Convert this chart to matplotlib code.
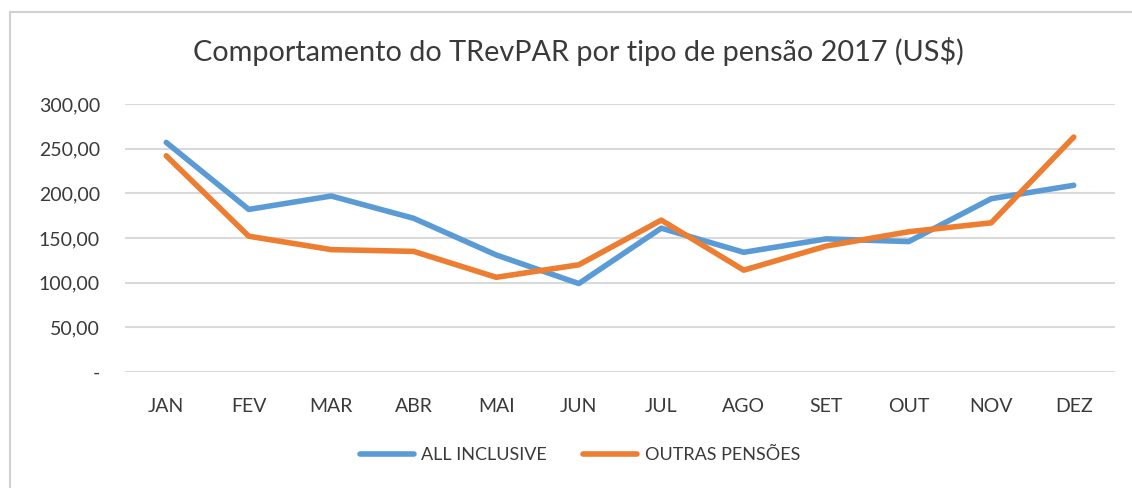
import matplotlib.pyplot as plt
from matplotlib.patches import Rectangle

plt.rcParams['font.family'] = ['Lato', 'DejaVu Sans']

months = ['JAN', 'FEV', 'MAR', 'ABR', 'MAI', 'JUN', 'JUL', 'AGO', 'SET', 'OUT', 'NOV', 'DEZ']
all_inclusive = [257, 182, 197, 172, 131, 99, 161, 134, 149, 146, 194, 209]
outras_pensoes = [242, 152, 137, 135, 106, 120, 170, 114, 141, 157, 167, 263]
yticks = [0, 50, 100, 150, 200, 250, 300]

fig = plt.figure(figsize=(11.32, 4.88), dpi=100)
fig.patch.set_facecolor('white')

# chart frame
fig.patches.append(Rectangle((10 / 1132, -0.05), 1.2, (488 - 12) / 488 + 0.05,
                             transform=fig.transFigure, fill=False,
                             edgecolor='#d0d0d0', linewidth=1.5))

ax = fig.add_axes([125 / 1132, (488 - 372) / 488, 990 / 1132, 268 / 488])
x = range(len(months))
ax.plot(x, all_inclusive, color='#5B9BD5', lw=4.0, solid_capstyle='round',
        solid_joinstyle='round', label='ALL INCLUSIVE', zorder=3)
ax.plot(x, outras_pensoes, color='#ED7D31', lw=4.0, solid_capstyle='round',
        solid_joinstyle='round', label='OUTRAS PENSÕES', zorder=3)

ax.set_xlim(-0.5, len(months) - 0.5)
ax.set_ylim(0, 300)
ax.set_yticks(yticks)
ax.set_yticklabels(['-' if v == 0 else f'{v:.2f}'.replace('.', ',') for v in yticks])
ax.set_xticks(list(x))
ax.set_xticklabels(months)
ax.grid(axis='y', color='#d9d9d9', lw=1.5)
ax.set_axisbelow(True)
for s in ax.spines.values():
    s.set_visible(False)
ax.tick_params(length=0, labelsize=14, colors='#3a3a3a')
ax.tick_params(axis='y', pad=18)
ax.tick_params(axis='x', pad=19)

fig.text(578 / 1132, 1 - 52 / 488, 'Comportamento do TRevPAR por tipo de pensão 2017 (US$)',
         ha='center', va='center', fontsize=20.8, color='#3a3a3a')

fig.legend(loc='center', bbox_to_anchor=(580 / 1132, 1 - 455 / 488), ncol=2,
           frameon=False, fontsize=13, handlelength=3.0, columnspacing=2.0,
           handletextpad=0.4, labelcolor='#3a3a3a')

fig.savefig('out.png', dpi=100)
